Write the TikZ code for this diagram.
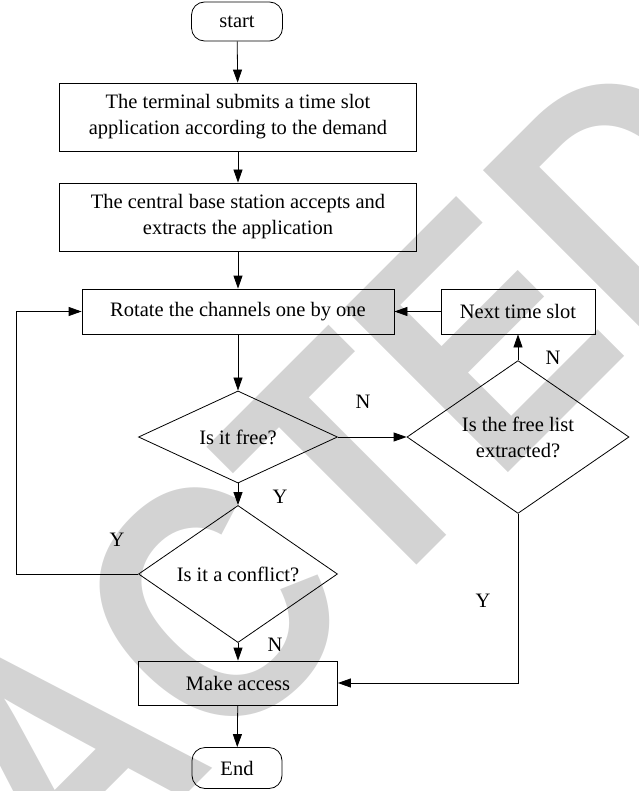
\documentclass[tikz,border=0pt]{standalone}
\usepackage{fontspec}
\setmainfont{Liberation Serif}
\newfontfamily\wmfont{Liberation Sans}
\usetikzlibrary{shapes.geometric,arrows.meta}
\definecolor{wm}{RGB}{211,211,211}
\begin{document}
\begin{tikzpicture}[x=1pt,y=-1pt,
  every node/.style={font=\fontsize{20.5}{26}\selectfont, inner sep=0pt, align=center},
  proc/.style={draw, rectangle, line width=0.8pt},
  term/.style={draw, rectangle, rounded corners=13pt, line width=0.8pt},
  decide/.style={draw, diamond, line width=0.8pt},
  arr/.style={line width=0.8pt, -{Triangle[length=13pt,width=9pt]}},
  wmstyle/.style={rotate=45, anchor=base west, font=\wmfont\bfseries\fontsize{337}{337}\selectfont, text=wm}
]
\path[use as bounding box] (0,0) rectangle (638,791);
\begin{scope}
\clip (0,0) rectangle (638,791);
\node[wmstyle] (wmark) at (-495.7,1477.2) {\scalebox{0.87}[1]{RETRACTED}};
\end{scope}

\node[term, minimum width=91pt, minimum height=39pt] (start) at (237,21.5) {start};
\node[proc, minimum width=357pt, minimum height=68pt] (b1) at (238,117) {The terminal submits a time slot\\application according to the demand};
\node[proc, minimum width=357pt, minimum height=68pt] (b2) at (238,217) {The central base station accepts and\\extracts the application};
\node[proc, minimum width=312pt, minimum height=45pt] (rot) at (238,311.5) {Rotate the channels one by one};
\node[proc, minimum width=154pt, minimum height=45pt] (next) at (518,311.5) {Next time slot};
\node[decide, minimum width=199pt, minimum height=88pt] (d1) at (238,437) {Is it free?};
\node[decide, minimum width=222pt, minimum height=130pt] (d2) at (518,437) {Is the free list\\extracted?};
\node[decide, minimum width=199pt, minimum height=87pt] (d3) at (238,574) {Is it a conflict?};
\node[proc, minimum width=199pt, minimum height=44pt] (make) at (238,683) {Make access};
\node[term, minimum width=90pt, minimum height=41pt] (end) at (237,768) {End};

\coordinate (lx) at (16,0);

\draw[arr] (start) -- (b1);
\draw[arr] (b1) -- (b2);
\draw[arr] (b2) -- (rot);
\draw[arr] (rot) -- (d1);
\draw[arr] (d1.east) -- (d2.west);
\draw[arr] (d2.north) -- (next.south);
\draw[arr] (next.west) -- (rot.east);
\draw[arr] (d1.south) -- (d3.north);
\draw[arr] (d3.west) -- (d3.west -| lx) |- (rot.west);
\draw[arr] (d3.south) -- (make.north);
\draw[arr] (d2.south) |- (make.east);
\draw[arr] (make) -- (end);

\node (lN1) at (363,402) {N};
\node (lN2) at (553,358) {N};
\node (lY1) at (280,497) {Y};
\node (lY2) at (117,540) {Y};
\node (lY3) at (483,601) {Y};
\node (lN3) at (275,645) {N};
\end{tikzpicture}
\end{document}
